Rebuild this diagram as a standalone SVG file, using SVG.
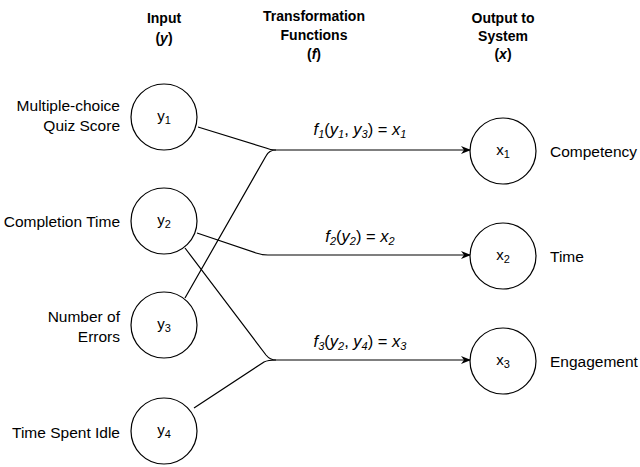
<svg xmlns="http://www.w3.org/2000/svg" width="640" height="467" viewBox="0 0 640 467">
<defs>
<style>
text{font-family:"Liberation Sans",Arial,sans-serif;font-size:15.5px;fill:#000}
.h{font-weight:bold;font-size:14px;text-anchor:middle}
.c{fill:#fff;stroke:#000;stroke-width:1.2}
.n{text-anchor:middle;font-size:15px}
.r{text-anchor:end}
.l{fill:none;stroke:#000;stroke-width:1.2}
.f{text-anchor:middle;font-size:16.5px}
</style>
<marker id="a" markerWidth="10" markerHeight="8" refX="9" refY="4" orient="auto" markerUnits="userSpaceOnUse"><path d="M0,0L10,4L0,8L3,4z" fill="#000"/></marker>
</defs>
<g id="headers">
<text class="h" x="164" y="23">Input</text><text class="h" x="164" y="43">(<tspan font-style="italic">y</tspan>)</text>
<text class="h" x="314" y="21">Transformation</text><text class="h" x="314" y="40">Functions</text><text class="h" x="314" y="59">(<tspan font-style="italic">f</tspan>)</text>
<text class="h" x="503" y="23">Output to</text><text class="h" x="503" y="41">System</text><text class="h" x="503" y="59">(<tspan font-style="italic">x</tspan>)</text>
</g>
<g id="connectors">
<path class="l" d="M198,127L266,148Q270,150 276,150L470,150" marker-end="url(#a)"/>
<path class="l" d="M185,298L266,156Q269,150 276,150"/>
<path class="l" d="M197,233L256,253Q262,255 268,255L470,255" marker-end="url(#a)"/>
<path class="l" d="M185,248L266,355Q270,360 276,360"/>
<path class="l" d="M194,408L264,362Q268,360 276,360L470,360" marker-end="url(#a)"/>
<text class="f" x="360" y="135" font-style="italic">f<tspan font-size="11" dy="3">1</tspan><tspan dy="-3" font-style="normal">(</tspan>y<tspan font-size="11" dy="3">1</tspan><tspan dy="-3" font-style="normal">, </tspan>y<tspan font-size="11" dy="3">3</tspan><tspan dy="-3" font-style="normal">) = </tspan>x<tspan font-size="11" dy="3">1</tspan></text>
<text class="f" x="360" y="242" font-style="italic">f<tspan font-size="11" dy="3">2</tspan><tspan dy="-3" font-style="normal">(</tspan>y<tspan font-size="11" dy="3">2</tspan><tspan dy="-3" font-style="normal">) = </tspan>x<tspan font-size="11" dy="3">2</tspan></text>
<text class="f" x="360" y="347" font-style="italic">f<tspan font-size="11" dy="3">3</tspan><tspan dy="-3" font-style="normal">(</tspan>y<tspan font-size="11" dy="3">2</tspan><tspan dy="-3" font-style="normal">, </tspan>y<tspan font-size="11" dy="3">4</tspan><tspan dy="-3" font-style="normal">) = </tspan>x<tspan font-size="11" dy="3">3</tspan></text>
</g>
<g id="y1"><circle class="c" cx="164" cy="117" r="33"/><text class="n" x="164" y="121">y<tspan font-size="11" dy="3">1</tspan></text><text class="r" x="120" y="111">Multiple-choice</text><text class="r" x="120" y="131">Quiz Score</text></g>
<g id="y2"><circle class="c" cx="164" cy="221" r="33"/><text class="n" x="164" y="225">y<tspan font-size="11" dy="3">2</tspan></text><text class="r" x="120" y="227">Completion Time</text></g>
<g id="y3"><circle class="c" cx="164" cy="325" r="33"/><text class="n" x="164" y="329">y<tspan font-size="11" dy="3">3</tspan></text><text class="r" x="120" y="322">Number of</text><text class="r" x="120" y="342">Errors</text></g>
<g id="y4"><circle class="c" cx="164" cy="431" r="33"/><text class="n" x="164" y="435">y<tspan font-size="11" dy="3">4</tspan></text><text class="r" x="120" y="438">Time Spent Idle</text></g>
<g id="x1"><circle class="c" cx="503" cy="151" r="33"/><text class="n" x="503" y="155">x<tspan font-size="11" dy="3">1</tspan></text><text x="550" y="157">Competency</text></g>
<g id="x2"><circle class="c" cx="503" cy="256" r="33"/><text class="n" x="503" y="260">x<tspan font-size="11" dy="3">2</tspan></text><text x="550" y="262">Time</text></g>
<g id="x3"><circle class="c" cx="503" cy="361" r="33"/><text class="n" x="503" y="365">x<tspan font-size="11" dy="3">3</tspan></text><text x="550" y="367">Engagement</text></g>
</svg>
